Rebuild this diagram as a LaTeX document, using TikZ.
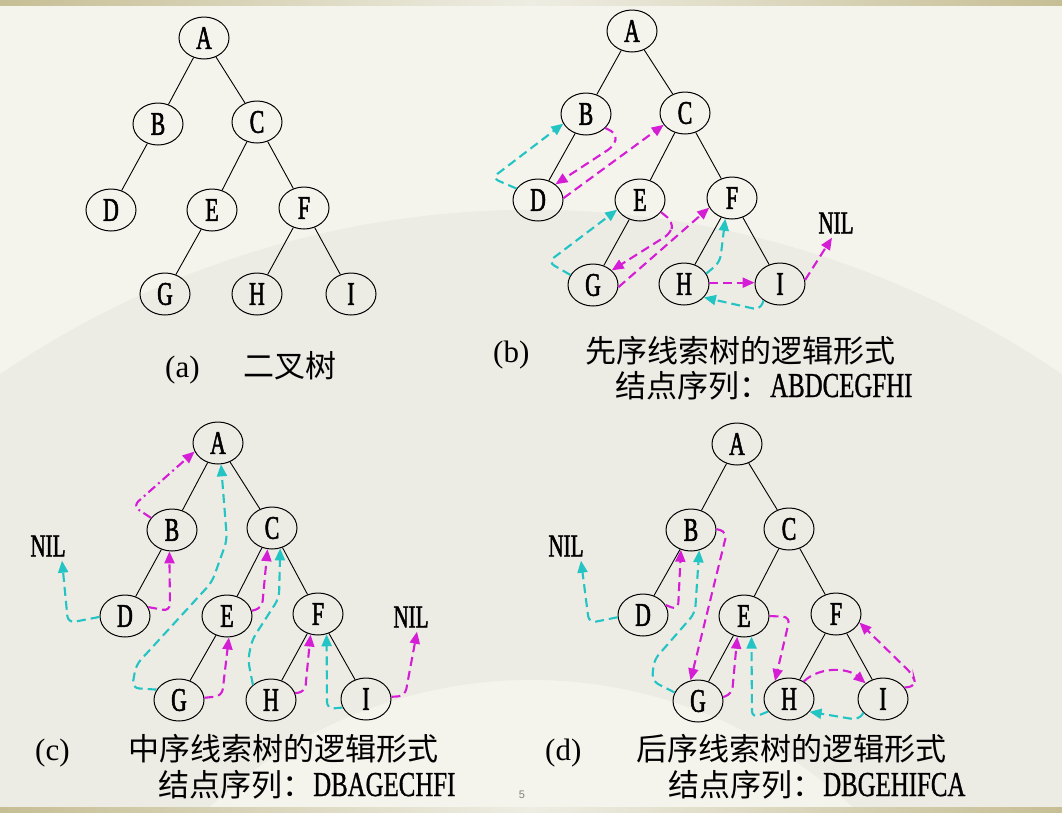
\documentclass[tikz,border=0pt]{standalone}
\usepackage{fontspec}
\setmainfont{Liberation Serif}
\newfontfamily\cjk{Noto Sans CJK SC}
\newfontfamily\nodefont[FakeStretch=0.66,FakeBold=1.6]{Liberation Serif}
\newfontfamily\seqfont[FakeStretch=0.71,FakeBold=0.8]{Liberation Serif}
\setsansfont{Liberation Sans}
\usetikzlibrary{arrows.meta,shapes.geometric}
\definecolor{bgc}{HTML}{F4F3EC}
\definecolor{barc}{HTML}{C6BE94}
\definecolor{barl}{HTML}{EEEDE3}
\definecolor{fanc}{HTML}{ECEBE4}
\definecolor{mag}{HTML}{D61DD6}
\definecolor{cya}{HTML}{22C4C4}
\tikzset{
  nd/.style={ellipse, draw, line width=1pt, minimum width=50pt, minimum height=42pt,
    inner sep=0pt, font=\nodefont\fontsize{33}{33}\selectfont},
  nil/.style={inner sep=4pt, font=\nodefont\fontsize{32}{32}\selectfont},
  edge/.style={line width=0.9pt},
  thr/.style={line width=2.1pt, dash pattern=on 9pt off 5pt, rounded corners=7pt,
    -{Triangle[length=12pt,width=10pt]}},
  mt/.style={thr, draw=mag, fill=none},
  ct/.style={thr, draw=cya, fill=none},
  lab/.style={anchor=base west, inner sep=0pt, font=\fontsize{31}{31}\selectfont},
}
\begin{document}
\begin{tikzpicture}[x=1pt,y=-1pt]
\useasboundingbox (0,0) rectangle (1062,812);
% background
\fill[bgc] (0,0) rectangle (1062,812);
\begin{scope}
\clip (0,0) rectangle (1062,812);
\fill[fanc] (531,1150) ++(-160:940) arc[start angle=-160, end angle=-20, radius=940]
  -- (531,1150) ++(-20:470) arc[start angle=-20, end angle=-160, radius=470] -- cycle;
\end{scope}
\shade[left color=barc, right color=barc, middle color=barl] (0,0) rectangle (1062,5);
\shade[left color=barc, right color=barc, middle color=barl] (0,807) rectangle (1062,812);

% ---- (a)
\node[nd] (aA) at (204,38) {A};
\node[nd] (aB) at (158,124) {B};
\node[nd] (aC) at (257,122) {C};
\node[nd] (aD) at (111,210) {D};
\node[nd] (aE) at (212,210) {E};
\node[nd] (aF) at (304,208) {F};
\node[nd] (aG) at (165,294) {G};
\node[nd] (aH) at (257,294) {H};
\node[nd] (aI) at (351,294) {I};
% ---- (b)
\node[nd] (bA) at (632,31) {A};
\node[nd] (bB) at (586,114) {B};
\node[nd] (bC) at (685,113) {C};
\node[nd] (bD) at (538,200) {D};
\node[nd] (bE) at (640,200) {E};
\node[nd] (bF) at (732,198) {F};
\node[nd] (bG) at (593,285) {G};
\node[nd] (bH) at (684,284) {H};
\node[nd] (bI) at (780,284) {I};
\node[nil] (bnil) at (836,223) {NIL};
% ---- (c)
\node[nd] (cA) at (218,443) {A};
\node[nd] (cB) at (172,530) {B};
\node[nd] (cC) at (272,528) {C};
\node[nd] (cD) at (125,616) {D};
\node[nd] (cE) at (227,616) {E};
\node[nd] (cF) at (318,614) {F};
\node[nd] (cG) at (179,700) {G};
\node[nd] (cH) at (271,700) {H};
\node[nd] (cI) at (366,699) {I};
\node[nil] (cnilL) at (48,546) {NIL};
\node[nil] (cnilR) at (411,617) {NIL};
% ---- (d)
\node[nd] (dA) at (737,444) {A};
\node[nd] (dB) at (691,530) {B};
\node[nd] (dC) at (789,529) {C};
\node[nd] (dD) at (643,615) {D};
\node[nd] (dE) at (744,616) {E};
\node[nd] (dF) at (836,614) {F};
\node[nd] (dG) at (698,701) {G};
\node[nd] (dH) at (789,699) {H};
\node[nd] (dI) at (883,699) {I};
\node[nil] (dnil) at (566,546) {NIL};

% tree edges
\foreach \t in {a,b,c,d}{
  \draw[edge] (\t A)--(\t B) (\t A)--(\t C) (\t B)--(\t D) (\t C)--(\t E)
    (\t C)--(\t F) (\t E)--(\t G) (\t F)--(\t H) (\t F)--(\t I);
}

% ---- threads (b) preorder
\draw[ct] (bD.152) -- (492,178) -- (bB.203);
\draw[mt] (bB.324) -- (617,134) -- (614,146) -- (bD.42);
\draw[mt] (bD.4) -- (bC.209);
\draw[mt] (bE.330) -- (673,222) -- (671,233) -- (bG.38);
\draw[ct] (bG.156) -- (548,262) -- (bE.203);
\draw[mt] (bG.355) -- (bF.203);
\draw[ct] (bH.25) -- (720,262) -- (bF.252);
\draw[mt] (bH.3) -- (bI.177);
\draw[ct] (bI.225) -- (760,310) -- (bH.326);
\draw[mt] (bI.9) -- ([xshift=-4pt]bnil.south);

% ---- threads (c) inorder
\draw[ct] (cD.182) -- (68,623) -- ([xshift=14pt]cnilL.south);
\draw[mt] (cD.21) -- (170,611) -- (cB.263);
\draw[mt, dash pattern=on 9pt off 4pt on 2pt off 4pt] (cB.150) -- (133,506) -- (cA.200);
\draw[ct] (cG.155) -- (132,688) -- (136,665) -- (212,582) -- (227,540) -- (cA.278);
\draw[mt] (cG.5) -- (222,696) -- (cE.275);
\draw[mt] (cE.12) -- (262,608) -- (cC.258);
\draw[ct] (cH.140) -- (248,660) -- (252,640) -- (279,598) -- (cC.292);
\draw[mt] (cH.16) -- (305,692) -- (cF.250);
\draw[ct] (cI.200) -- (327,709) -- (cF.293);
\draw[mt] (cI.5) -- (405,696) -- ([xshift=6pt]cnilR.south);

% ---- threads (d) postorder
\draw[ct] (dD.185) -- (589,623) -- ([xshift=15pt]dnil.south);
\draw[mt] (dD.24) -- (678,610) -- (dB.243);
\draw[mt] (dB.2) -- (727,532) -- (dG.110);
\draw[ct] (dG.160) -- (652,681) -- (654,660) -- (695,613) -- (dB.292);
\draw[mt] (dG.9) -- (732,694) -- (dE.252);
\draw[ct] (dH.211) -- (752,718) -- (dE.290);
\draw[mt] (dE.0) -- (790,617) -- (dH.128);
\draw[mt] (dH.50) .. controls (820,666) and (848,668) .. (dI.138);
\draw[ct] (dI.215) -- (859,720) -- (dH.328);
\draw[mt] (dI.28) -- (916,686) -- (913,675) -- (dF.340);

% ---- labels
\node[lab] (la1) at (165,377) {(a)};
\node[lab] (la2) at (243,377) {\cjk 二叉树};
\node[lab] (lb1) at (493,362) {(b)};
\node[lab] (lb2) at (585,362) {\cjk 先序线索树的逻辑形式};
\node[lab] (lb3) at (615,397) {{\cjk 结点序列：}{\seqfont\fontsize{35}{35}\selectfont ABDCEGFHI}};
\node[lab] (lc1) at (35,760) {(c)};
\node[lab] (lc2) at (128,760) {\cjk 中序线索树的逻辑形式};
\node[lab] (lc3) at (158,796) {{\cjk 结点序列：}{\seqfont\fontsize{35}{35}\selectfont DBAGECHFI}};
\node[lab] (ld1) at (545,760) {(d)};
\node[lab] (ld2) at (636,760) {\cjk 后序线索树的逻辑形式};
\node[lab] (ld3) at (668,796) {{\cjk 结点序列：}{\seqfont\fontsize{35}{35}\selectfont DBGEHIFCA}};
\node[font=\sffamily\fontsize{11}{11}\selectfont, text=gray] (pg) at (522,795) {5};
\end{tikzpicture}
\end{document}
